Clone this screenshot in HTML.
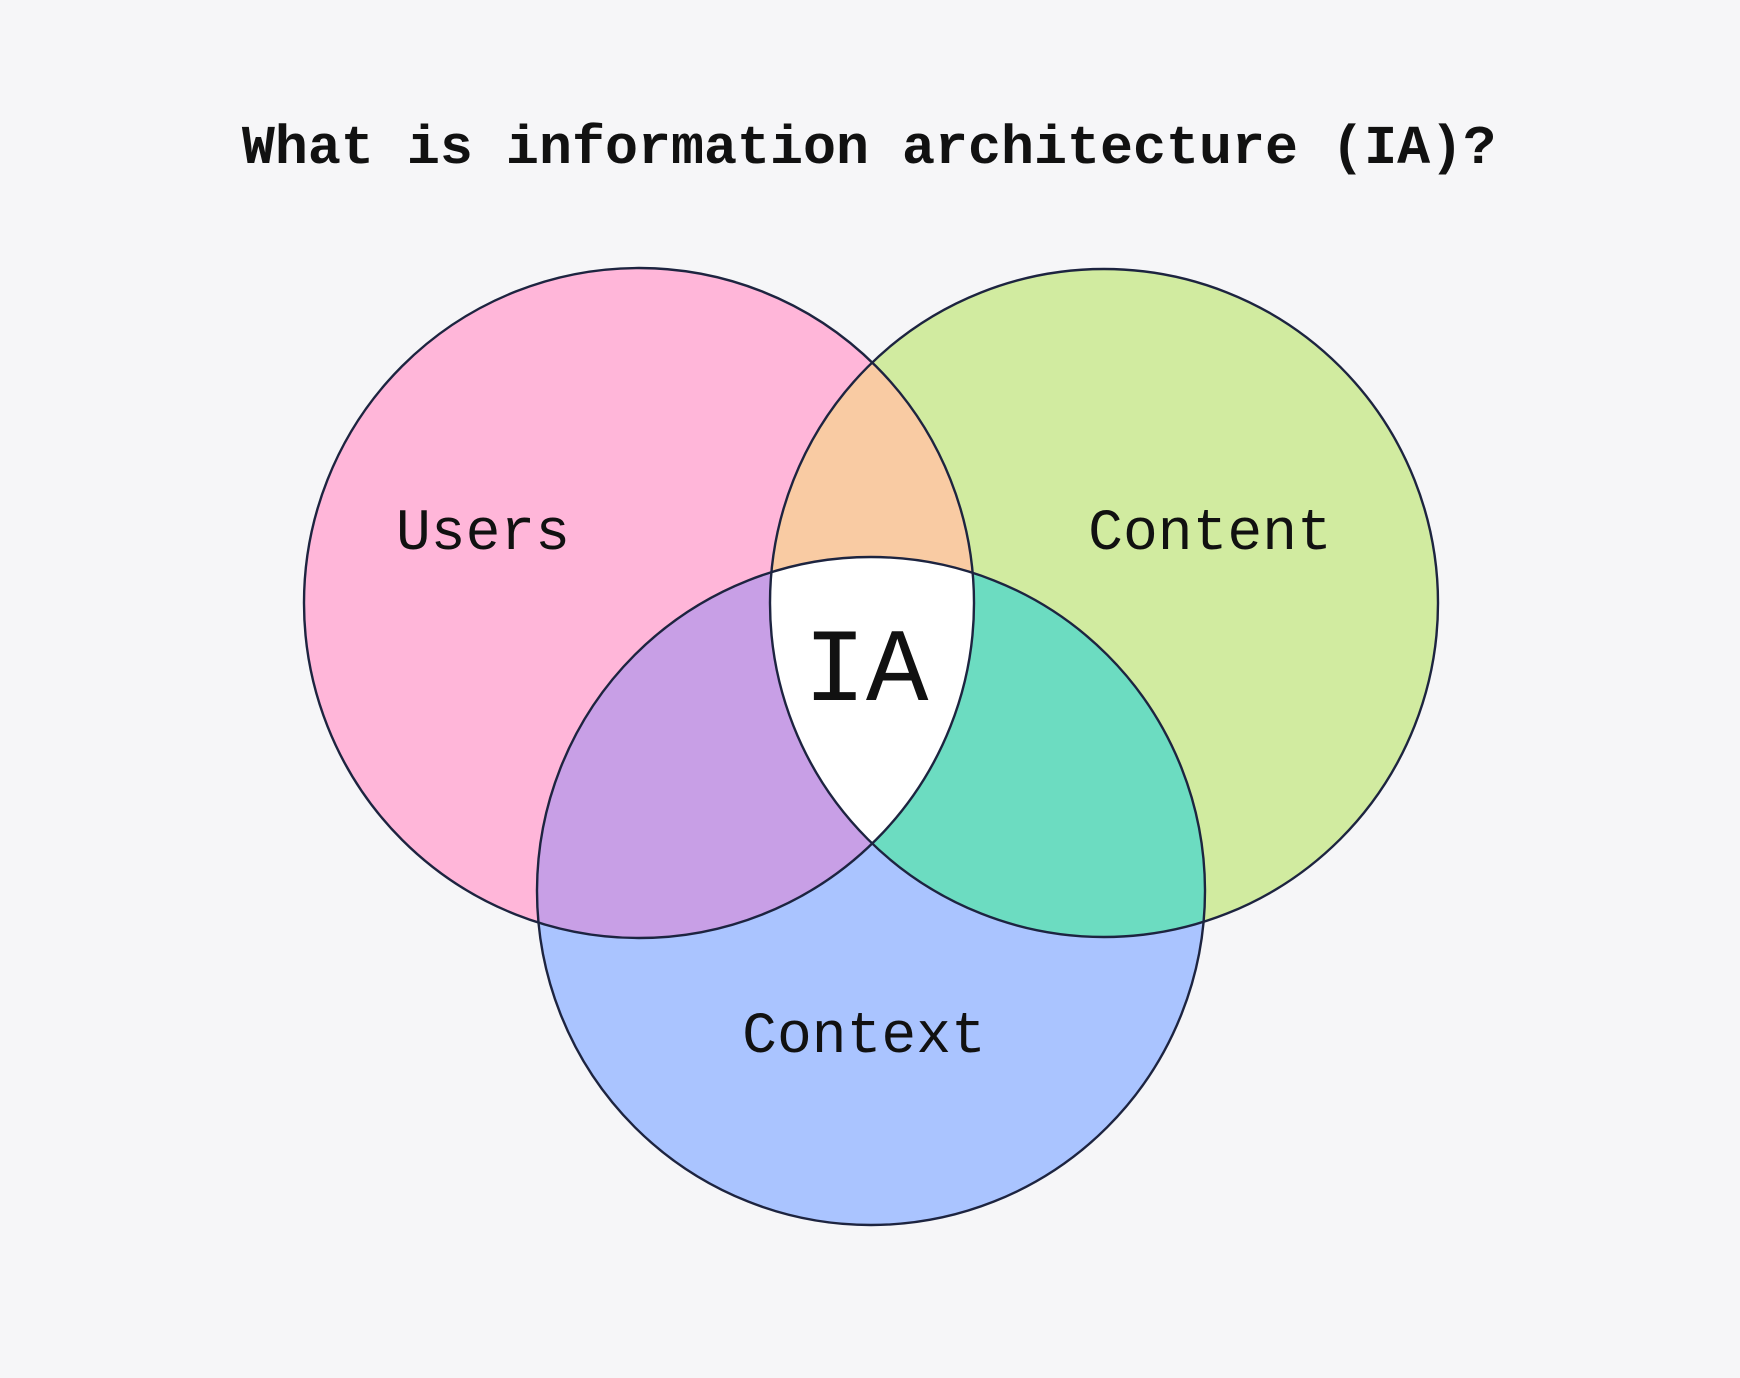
<!DOCTYPE html>
<html><head><meta charset="utf-8"><style>
html,body{margin:0;padding:0;background:#f6f6f8;}
svg{display:block}
text{font-family:"Liberation Mono","DejaVu Sans Mono",monospace;fill:#111;}
</style></head><body>
<svg width="1740" height="1378" viewBox="0 0 1740 1378" xmlns="http://www.w3.org/2000/svg">
<defs>
<clipPath id="cU"><circle cx="639" cy="603" r="335"/></clipPath>
<clipPath id="cC"><circle cx="1104" cy="603" r="334"/></clipPath>
<clipPath id="cX"><circle cx="871" cy="891" r="334"/></clipPath>
</defs>
<rect width="1740" height="1378" fill="#f6f6f8"/>
<text x="869" y="163" text-anchor="middle" font-size="55" font-weight="bold">What is information architecture (IA)?</text>
<circle cx="639" cy="603" r="335" fill="#ffb6d9"/>
<circle cx="1104" cy="603" r="334" fill="#d1eba0"/>
<circle cx="871" cy="891" r="334" fill="#aac4ff"/>
<g clip-path="url(#cU)"><circle cx="1104" cy="603" r="334" fill="#f9cba3"/><circle cx="871" cy="891" r="334" fill="#c89fe6"/></g>
<g clip-path="url(#cC)"><circle cx="871" cy="891" r="334" fill="#6cdcc1"/></g>
<g clip-path="url(#cU)"><g clip-path="url(#cC)"><circle cx="871" cy="891" r="334" fill="#ffffff"/></g></g>
<g fill="none" stroke="#1d2440" stroke-width="2.4">
<circle cx="639" cy="603" r="335"/>
<circle cx="1104" cy="603" r="334"/>
<circle cx="871" cy="891" r="334"/>
</g>
<text x="483" y="549" text-anchor="middle" font-size="58">Users</text>
<text x="1210" y="549" text-anchor="middle" font-size="58">Content</text>
<text x="864" y="1052" text-anchor="middle" font-size="58">Context</text>
<text x="866" y="700" text-anchor="middle" font-size="104">IA</text>
</svg>
</body></html>
